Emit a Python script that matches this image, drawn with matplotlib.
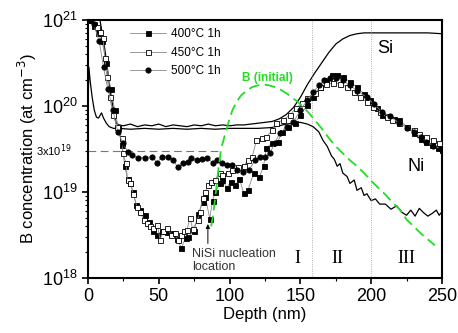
import matplotlib
matplotlib.use("Agg")
import matplotlib.pyplot as plt
import matplotlib.transforms as mtransforms
from matplotlib.ticker import MultipleLocator, LogLocator, NullFormatter
import numpy as np

matplotlib.rcParams['font.family'] = ['Liberation Sans', 'DejaVu Sans']
matplotlib.rcParams['font.size'] = 12

# SIMS profiles, values given as log10 of concentration (at cm^-3)
d400 = [1.5, 4, 7, 10, 13, 16, 19, 21.5, 24, 26, 28,
        30, 32, 34, 37, 40, 43, 46, 49, 52, 56, 60, 63, 66, 69, 71, 75, 78, 81, 83, 86,
        88, 90, 93, 95, 98, 101, 104, 107, 110, 113, 117, 121, 124, 126, 130, 134, 137,
        141, 146, 150, 155, 159, 164, 168, 172, 176, 180, 185, 190, 195, 199, 204, 208,
        212, 216, 220, 225, 230, 235, 239, 243, 247, 250]
c400 = [21.0, 20.93, 20.85, 20.75, 20.5, 20.2, 19.95, 19.75, 19.55, 19.3, 19.15,
        19.1, 19.0, 18.85, 18.79, 18.73, 18.65, 18.55, 18.5, 18.55, 18.53, 18.52, 18.45,
        18.35, 18.47, 18.48, 18.55, 18.75, 18.88, 18.94, 18.69,
        18.9, 19.0, 19.1, 19.14, 19.05, 19.12, 19.08, 19.15, 18.99, 19.02, 19.22, 19.17,
        19.3, 19.51, 19.57, 19.58, 19.70, 19.76, 19.8, 19.9, 20.01, 20.1, 20.22, 20.3,
        20.36, 20.36, 20.34, 20.28, 20.22, 20.14, 20.07, 19.98, 19.9, 19.88, 19.85, 19.84,
        19.76, 19.69, 19.62, 19.58, 19.55, 19.51, 19.49]

d450 = [1.5, 4, 6.4, 8.5, 10.6, 12, 13.4, 15.5, 17.7, 20.5, 24, 24.7, 26.8, 28, 30, 32,
        34.6, 36.7, 39.5, 42, 44, 46, 49, 51, 53, 56, 59, 61.5, 63.5, 66, 68, 70, 72, 74,
        77.5, 79, 81, 83, 84.5, 87, 89.7, 93, 95, 99, 102, 106, 110, 113, 116, 119, 123,
        126, 130, 133, 138, 143, 147, 151, 155, 160, 164, 168, 173, 178, 183, 188, 192,
        197, 201, 206, 211, 215, 220, 225, 230, 234, 239, 244, 248]
c450 = [21.0, 20.95, 20.92, 20.86, 20.79, 20.56, 20.34, 20.1, 19.9, 19.76, 19.63, 19.45,
        19.34, 19.14, 19.1, 18.98, 18.83, 18.77, 18.67, 18.64, 18.6, 18.58, 18.62, 18.44,
        18.55, 18.58, 18.5, 18.52, 18.44, 18.5, 18.55, 18.56, 18.7, 18.57, 18.67, 18.77,
        18.93, 19.0, 19.08, 19.12, 19.14, 19.22, 19.2, 19.22, 19.26, 19.29, 19.3, 19.37,
        19.41, 19.6, 19.63, 19.64, 19.72, 19.8, 19.84, 19.9, 19.98, 20.03, 20.09, 20.15,
        20.22, 20.25, 20.27, 20.26, 20.22, 20.16, 20.1, 20.05, 19.99, 19.93, 19.87, 19.84,
        19.8, 19.76, 19.72, 19.68, 19.64, 19.6, 19.57]

d500 = [1.5, 4, 8, 11, 14, 17.7, 21, 24.7, 28, 31, 35, 40, 45, 49, 52, 56.5, 60, 63.5,
        67, 70.6, 73, 77, 80.5, 84, 88, 91, 94.6, 98, 101.6, 105, 109.6, 114, 118, 121.5,
        125, 128.5, 132, 135.6, 140.5, 145, 150, 155, 159, 163, 167, 171, 175, 180, 185,
        190, 197, 202, 208, 213, 220, 225, 230, 235, 239, 244, 249]
c500 = [21.0, 20.95, 20.75, 20.45, 20.2, 19.95, 19.7, 19.57, 19.47, 19.43, 19.4, 19.4,
        19.41, 19.34, 19.41, 19.41, 19.37, 19.29, 19.34, 19.35, 19.4, 19.37, 19.38, 19.4,
        19.34, 19.37, 19.34, 19.31, 19.32, 19.26, 19.23, 19.26, 19.37, 19.41, 19.41,
        19.45, 19.57, 19.69, 19.76, 19.81, 19.95, 20.07, 20.16, 20.24, 20.3, 20.33, 20.33,
        20.3, 20.24, 20.18, 20.1, 20.02, 19.93, 19.88, 19.8, 19.75, 19.7, 19.64, 19.58,
        19.54, 19.5]

d_si = [8.5, 10, 12, 14, 16, 18, 20, 22, 25, 30, 35, 40, 45, 50, 55, 60, 65, 70, 75, 80,
        85, 90, 95, 100, 105, 110, 115, 120, 125, 130, 135, 140, 145, 150, 155, 160, 165,
        170, 175, 180, 185, 190, 195, 200, 210, 220, 230, 240, 250]
c_si = [21.0, 20.85, 20.65, 20.4, 20.15, 19.95, 19.8, 19.78, 19.77, 19.79, 19.76, 19.78,
        19.77, 19.79, 19.76, 19.78, 19.77, 19.76, 19.78, 19.77, 19.79, 19.77, 19.78, 19.77,
        19.78, 19.78, 19.79, 19.8, 19.81, 19.82, 19.85, 19.9, 19.98, 20.1, 20.25, 20.38,
        20.5, 20.62, 20.72, 20.78, 20.82, 20.84, 20.85, 20.85, 20.85, 20.85, 20.85, 20.85,
        20.84]

d_ni = [0, 0.7, 1.5, 3, 4.5, 6, 7.5, 9.6, 11, 13, 15, 18, 22, 30, 40, 50, 60, 70, 80,
        90, 100, 110, 120, 130, 135, 140, 145, 150, 155, 159, 163, 166, 169, 172, 174,
        176, 178, 180, 183, 185, 188, 190, 193, 195, 197, 200, 203, 206, 210, 214, 218,
        222, 225, 228, 231, 234, 237, 240, 243, 246, 248, 250]
c_ni = [20.0, 20.45, 20.3, 20.1, 19.95, 19.87, 19.86, 19.92, 19.86, 19.8, 19.76, 19.74,
        19.74, 19.73, 19.74, 19.73, 19.74, 19.73, 19.74, 19.73, 19.74, 19.74, 19.74, 19.75,
        19.77, 19.79, 19.8, 19.81, 19.79, 19.76, 19.7, 19.6, 19.53, 19.42, 19.38, 19.3,
        19.33, 19.22, 19.18, 19.1, 19.14, 19.02, 19.05, 18.96, 18.98, 18.9, 18.92, 18.86,
        18.86, 18.8, 18.84, 18.76, 18.73, 18.79, 18.72, 18.81, 18.76, 18.72, 18.75, 18.79,
        18.73, 18.77]

d_init = [87, 88.5, 90, 92, 94, 96, 98, 100, 102, 105, 108, 112, 116, 120, 124, 128,
          132, 136, 140, 144, 148, 152, 156, 160, 165, 170, 175, 180, 185, 190, 195, 200,
          205, 210, 215, 220, 225, 230, 235, 240, 245]
c_init = [18.6, 18.75, 18.95, 19.25, 19.5, 19.62, 19.74, 19.85, 19.95, 20.05, 20.12,
          20.18, 20.22, 20.24, 20.25, 20.24, 20.22, 20.19, 20.15, 20.1, 20.05, 19.99,
          19.92, 19.84, 19.74, 19.63, 19.53, 19.45, 19.37, 19.3, 19.22, 19.13, 19.05,
          18.97, 18.88, 18.8, 18.68, 18.6, 18.52, 18.45, 18.38]


def conc(v):
    return 10 ** np.array(v)


fig = plt.figure(figsize=(4.58, 3.33), dpi=100)
ax = fig.add_axes([0.192, 0.165, 0.773, 0.775])

grey = '#888888'
ax.plot(d400, conc(c400), '-', color=grey, lw=0.6, marker='s', ms=3.6,
        mfc='black', mec='black', mew=0.6, label='400°C 1h', zorder=3)
ax.plot(d450, conc(c450), '-', color=grey, lw=0.6, marker='s', ms=3.6,
        mfc='white', mec='black', mew=0.6, label='450°C 1h', zorder=3)
ax.plot(d500, conc(c500), '-', color=grey, lw=0.6, marker='o', ms=3.8,
        mfc='black', mec='black', mew=0.6, label='500°C 1h', zorder=3)

ax.plot(d_si, conc(c_si), '-', color='black', lw=0.9, zorder=2)
ax.plot(d_ni, conc(c_ni), '-', color='black', lw=0.9, zorder=2)
ax.plot(d_init, conc(c_init), '--', color='#22dd22', lw=1.3, dashes=(6, 3), zorder=4)

# reference levels and zones
ax.plot([0, 92], [3e19, 3e19], '--', color='#777777', lw=0.8, dashes=(7, 4), zorder=1)
ax.axvline(158, color='#999999', lw=0.6, ls=':')
ax.axvline(200, color='#999999', lw=0.6, ls=':')

ax.set_yscale('log')
ax.set_xlim(0, 250)
ax.set_ylim(1e18, 1e21)
ax.xaxis.set_major_locator(MultipleLocator(50))
ax.xaxis.set_minor_locator(MultipleLocator(25))
ax.yaxis.set_minor_locator(LogLocator(base=10, subs=np.arange(2, 10)))
ax.yaxis.set_minor_formatter(NullFormatter())
ax.tick_params(which='both', direction='out', top=False, right=False)
ax.tick_params(which='major', length=4, width=1.2, labelsize=13)
ax.tick_params(which='minor', length=2.5, width=0.8)
for s in ax.spines.values():
    s.set_linewidth(1.5)

ax.set_xlabel('Depth (nm)', fontsize=12, labelpad=1)
ax.set_ylabel('B concentration (at cm$^{-3}$)', fontsize=12, labelpad=2)

trans = mtransforms.blended_transform_factory(ax.transAxes, ax.transData)
ax.text(-0.045, 3e19, '3x10$^{19}$', transform=trans, ha='right', va='center', fontsize=8)

ax.text(127, 10 ** 20.33, 'B (initial)', color='#22dd22', fontsize=8.5,
        fontweight='bold', ha='center', va='center')
ax.text(210, 10 ** 20.67, 'Si', fontsize=13, ha='center', va='center')
ax.text(232, 10 ** 19.30, 'Ni', fontsize=13, ha='center', va='center')

ax.annotate('', xy=(84.7, 10 ** 18.66), xytext=(84.7, 10 ** 18.37),
            arrowprops=dict(arrowstyle='-|>', color='black', lw=0.7,
                            mutation_scale=6))
ax.text(73.4, 10 ** 18.35, 'NiSi nucleation\nlocation', fontsize=9,
        color='#333333', ha='left', va='top', linespacing=1.1)

for xr, lab in [(148, 'I'), (176.5, 'II'), (225, 'III')]:
    ax.text(xr, 10 ** 18.23, lab, fontsize=13, ha='center', va='center',
            family=['Liberation Serif', 'DejaVu Serif'])

ax.legend(loc='upper left', bbox_to_anchor=(0.095, 1.0), frameon=False, fontsize=8.5,
          handlelength=3.1, handletextpad=0.4, labelspacing=0.55, borderaxespad=0.3)

plt.savefig('out.png', dpi=100)
plt.close()
